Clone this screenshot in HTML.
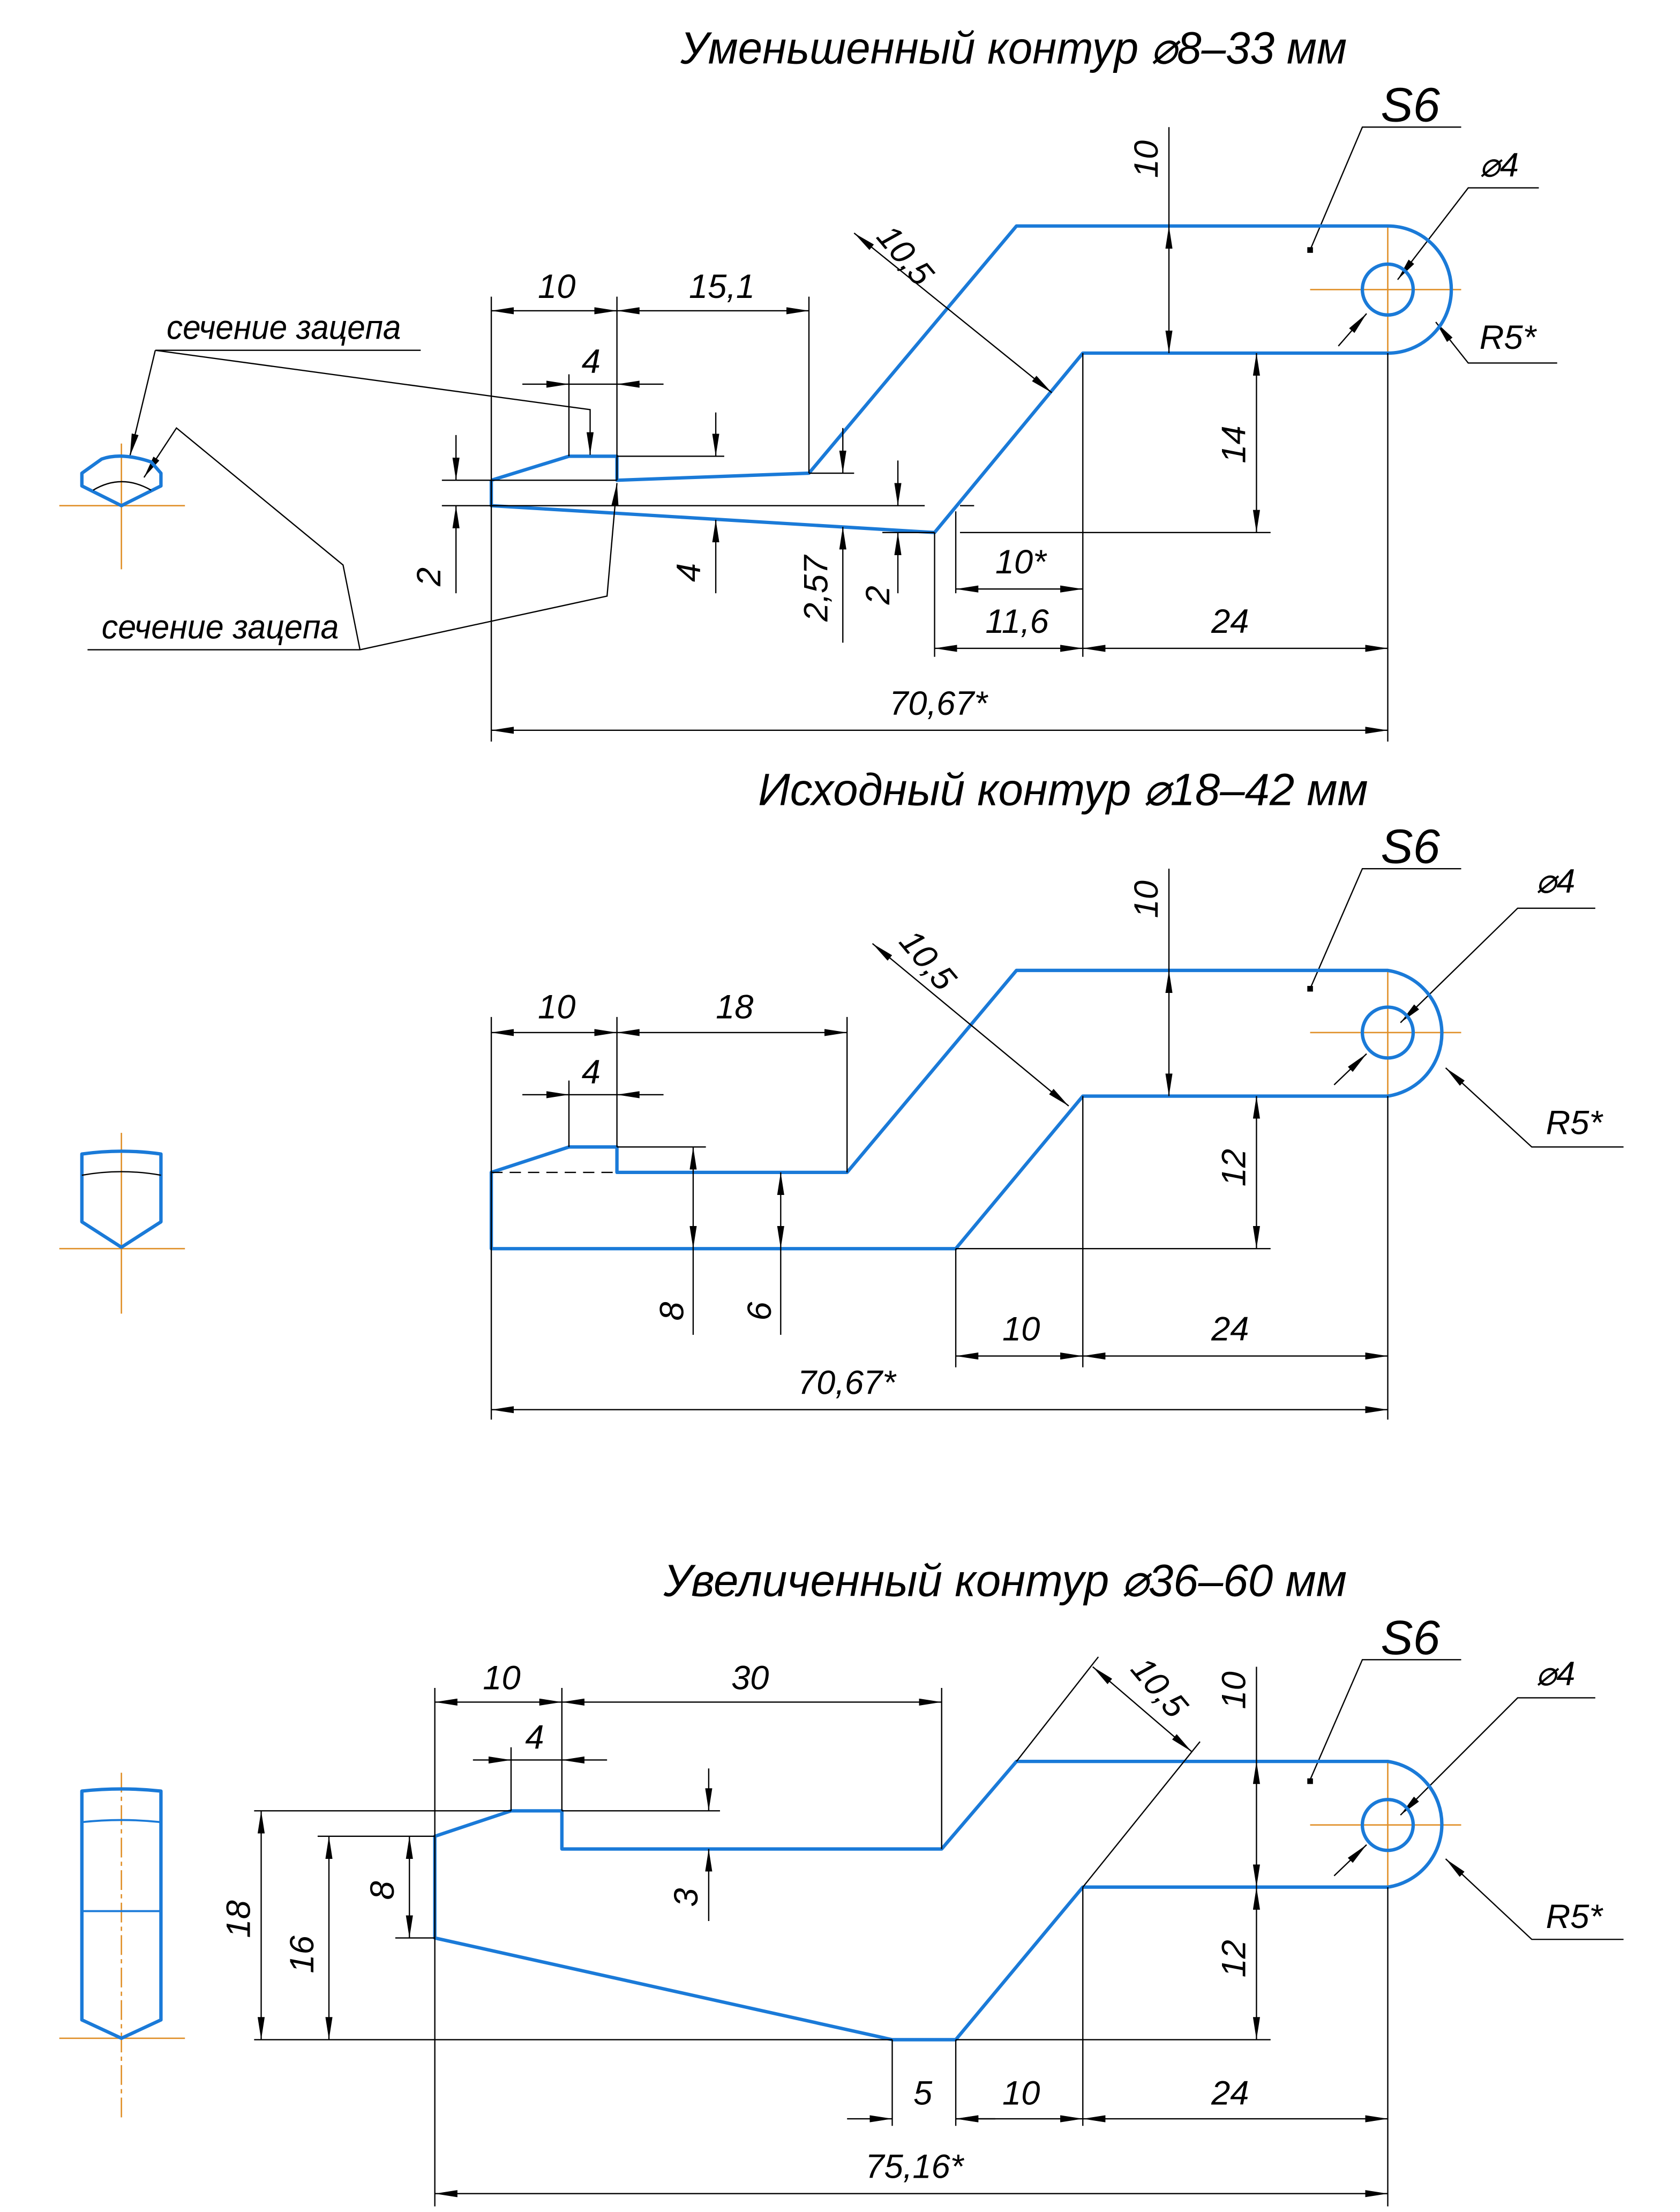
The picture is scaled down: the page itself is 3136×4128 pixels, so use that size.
<!DOCTYPE html>
<html><head><meta charset="utf-8"><style>
html,body{margin:0;padding:0;background:#fff}
svg{display:block}
text{font-family:"Liberation Sans",sans-serif;font-style:italic;fill:#000}
.b{stroke:#1a7ad8;stroke-width:2.4;fill:none;stroke-linejoin:round}
.k{stroke:#000;stroke-width:0.9;fill:none}
.o{stroke:#e0902a;stroke-width:1;fill:none}
.d{marker-start:url(#a);marker-end:url(#a)}
.e{marker-end:url(#a)}
.t{font-size:24px}
.h{font-size:32px}
</style></head><body>
<svg width="3136" height="4128" viewBox="0 0 1190 1566" preserveAspectRatio="none" xmlns="http://www.w3.org/2000/svg">
<defs><marker id="a" viewBox="0 0 16 5" refX="16" refY="2.5" markerWidth="16" markerHeight="5" markerUnits="userSpaceOnUse" orient="auto-start-reverse"><path d="M0,0L16,2.5L0,5z" fill="#000"/></marker></defs>

<!-- ============ SECTION 1 ============ -->
<text class="h" x="482" y="45" textLength="472" lengthAdjust="spacingAndGlyphs">Уменьшенный контур ⌀8–33 мм</text>
<text x="978" y="86" style="font-size:34px" textLength="42" lengthAdjust="spacingAndGlyphs">S6</text>
<path class="k" d="M1035,90H965L928,177"/><rect x="926" y="175" width="4" height="4"/>
<text class="t" x="1048" y="125">⌀4</text>
<path class="k e" d="M1090,133H1040L990,198"/>
<path class="k e" d="M948,245L968,222"/>
<text class="t" x="1048" y="247">R5*</text>
<path class="k e" d="M1103,257H1040L1017,228"/>
<path class="o" d="M928,205H1035M983,160V250"/>
<circle class="b" cx="983" cy="205" r="18"/>
<path class="b" d="M348,340V358L662,377L767,250H983A45,45 0 0 0 983,160H720L573,335L437,340V323H403L348,340"/>
<path class="k" d="M348,210V525M437,210V340M573,210V335M403,265V323M437,323H513M313,340H437M313,358H655M680,358H690M573,335H605M625,377H662M680,377H900M662,377V465M677,362V420M767,250V465M983,250V525M828,90V160"/>
<path class="k d" d="M348,220H437"/><path class="k d" d="M437,220H573"/>
<text class="t" x="381" y="211">10</text><text class="t" x="488" y="211">15,1</text>
<path class="k e" d="M370,272H403"/><path class="k e" d="M470,272H437"/><path class="k" d="M403,272H437"/>
<text class="t" x="412" y="264">4</text>
<path class="k" d="M110,248H298"/><text class="t" x="118" y="240" textLength="166" lengthAdjust="spacingAndGlyphs">сечение зацепа</text>
<path class="k e" d="M110,248L92,323"/><path class="k e" d="M110,248L418,290V322"/>
<path class="k" d="M62,460H255"/><text class="t" x="72" y="452" textLength="168" lengthAdjust="spacingAndGlyphs">сечение зацепа</text>
<path class="k e" d="M255,460L243,400L125,303L102,338"/><path class="k e" d="M255,460L430,422L437,342"/>
<path class="k e" d="M323,308V340"/><path class="k e" d="M323,420V358"/>
<text class="t" transform="translate(312,415) rotate(-90)">2</text>
<path class="k e" d="M507,292V323"/><path class="k e" d="M507,420V368"/>
<text class="t" transform="translate(496,412) rotate(-90)">4</text>
<path class="k e" d="M597,303V335"/><path class="k e" d="M597,455V373"/>
<text class="t" transform="translate(586,440) rotate(-90)">2,57</text>
<path class="k e" d="M636,326V358"/><path class="k e" d="M636,420V377"/>
<text class="t" transform="translate(630,428) rotate(-90)">2</text>
<path class="k d" d="M828,160V250"/><text class="t" transform="translate(820,126) rotate(-90)">10</text>
<path class="k d" d="M890,250V377"/><text class="t" transform="translate(882,328) rotate(-90)">14</text>
<path class="k d" d="M677,417H767"/><text class="t" x="705" y="406">10*</text>
<path class="k d" d="M662,459H767"/><path class="k d" d="M767,459H983"/>
<text class="t" x="698" y="448">11,6</text><text class="t" x="858" y="448">24</text>
<path class="k d" d="M348,517H983"/><text class="t" x="630" y="506">70,67*</text>
<path class="k d" d="M605,165L745,278"/>
<text class="t" transform="translate(620,168) rotate(50)">10,5</text>
<path class="o" d="M42,358H131M86,314V403"/>
<path class="b" d="M72,325Q86,320 107,327L114,335V344L86,358L58,344V335L72,325Z"/>
<path class="k" d="M66,347Q86,335 107,347"/>

<!-- ============ SECTION 2 ============ -->
<text class="h" x="537" y="570" textLength="432" lengthAdjust="spacingAndGlyphs">Исходный контур ⌀18–42 мм</text>
<text x="978" y="611" style="font-size:34px" textLength="42" lengthAdjust="spacingAndGlyphs">S6</text>
<path class="k" d="M1035,615H965L928,700"/><rect x="926" y="698" width="4" height="4"/>
<text class="t" x="1088" y="632">⌀4</text>
<path class="k e" d="M1130,643H1075L992,724"/>
<path class="k e" d="M945,768L968,746"/>
<text class="t" x="1095" y="803">R5*</text>
<path class="k e" d="M1150,812H1085L1024,756"/>
<path class="o" d="M928,731H1035M983,686V776"/>
<circle class="b" cx="983" cy="731" r="18"/>
<path class="b" d="M348,884V830L403,812H437V830H600L720,687H983A45,45 0 0 1 983,776H767L677,884Z"/>
<path class="k" stroke-dasharray="8,5" d="M348,830H437"/>
<path class="k" d="M348,720V1005M437,720V812M600,720V830M403,765V812M437,812H500M491,884V945M553,884V945M828,615V687M677,884H900M677,884V968M767,776V968M983,776V1005"/>
<path class="k d" d="M348,731H437"/><path class="k d" d="M437,731H600"/>
<text class="t" x="381" y="721">10</text><text class="t" x="507" y="721">18</text>
<path class="k e" d="M370,775H403"/><path class="k e" d="M470,775H437"/><path class="k" d="M403,775H437"/>
<text class="t" x="412" y="767">4</text>
<path class="k d" d="M491,812V884"/><text class="t" transform="translate(484,935) rotate(-90)">8</text>
<path class="k d" d="M553,830V884"/><text class="t" transform="translate(546,935) rotate(-90)">6</text>
<path class="k d" d="M828,687V776"/><text class="t" transform="translate(820,650) rotate(-90)">10</text>
<path class="k d" d="M890,776V884"/><text class="t" transform="translate(882,840) rotate(-90)">12</text>
<path class="k d" d="M677,960H767"/><path class="k d" d="M767,960H983"/>
<text class="t" x="710" y="949">10</text><text class="t" x="858" y="949">24</text>
<path class="k d" d="M348,998H983"/><text class="t" x="565" y="987">70,67*</text>
<path class="k d" d="M618,668L757,783"/>
<text class="t" transform="translate(636,667) rotate(50)">10,5</text>
<path class="o" d="M42,884H131M86,802V930"/>
<path class="b" d="M58,817Q86,813 114,817V865L86,883L58,865Z"/>
<path class="k" d="M58,832Q86,827 114,832"/>

<!-- ============ SECTION 3 ============ -->
<text class="h" x="470" y="1130" textLength="484" lengthAdjust="spacingAndGlyphs">Увеличенный контур ⌀36–60 мм</text>
<text x="978" y="1171" style="font-size:34px" textLength="42" lengthAdjust="spacingAndGlyphs">S6</text>
<path class="k" d="M1035,1175H965L928,1260"/><rect x="926" y="1259" width="4" height="4"/>
<text class="t" x="1088" y="1193">⌀4</text>
<path class="k e" d="M1130,1202H1075L992,1285"/>
<path class="k e" d="M945,1328L968,1306"/>
<text class="t" x="1095" y="1365">R5*</text>
<path class="k e" d="M1150,1373H1085L1024,1316"/>
<path class="o" d="M928,1292H1035M983,1247V1336"/>
<circle class="b" cx="983" cy="1292" r="18"/>
<path class="b" d="M308,1372V1300L362,1282H398V1309H667L720,1247H983A45,45 0 0 1 983,1336H767L677,1444H632Z"/>
<path class="k" d="M308,1195V1562M398,1195V1282M667,1195V1309M362,1237V1282M398,1282H510M180,1282H362M225,1300H308M280,1372H308M180,1444H632M677,1444H900M632,1444V1505M677,1444V1505M767,1336V1505M983,1336V1562M720,1247L778,1173M767,1336L850,1233M890,1180V1247"/>
<path class="k d" d="M308,1205H398"/><path class="k d" d="M398,1205H667"/>
<text class="t" x="342" y="1196">10</text><text class="t" x="518" y="1196">30</text>
<path class="k e" d="M335,1246H362"/><path class="k e" d="M430,1246H398"/><path class="k" d="M362,1246H398"/>
<text class="t" x="372" y="1238">4</text>
<path class="k e" d="M502,1252V1282"/><path class="k e" d="M502,1360V1309"/>
<text class="t" transform="translate(494,1350) rotate(-90)">3</text>
<path class="k d" d="M185,1282V1444"/><text class="t" transform="translate(177,1372) rotate(-90)">18</text>
<path class="k d" d="M233,1300V1444"/><text class="t" transform="translate(222,1397) rotate(-90)">16</text>
<path class="k d" d="M290,1300V1372"/><text class="t" transform="translate(279,1345) rotate(-90)">8</text>
<path class="k d" d="M890,1247V1336"/><text class="t" transform="translate(882,1210) rotate(-90)">10</text>
<path class="k d" d="M890,1336V1444"/><text class="t" transform="translate(882,1400) rotate(-90)">12</text>
<path class="k d" d="M774,1180L844,1240"/>
<text class="t" transform="translate(800,1182) rotate(50)">10,5</text>
<path class="k e" d="M600,1500H632"/><path class="k e" d="M705,1500H677"/>
<path class="k d" d="M677,1500H767"/><path class="k d" d="M767,1500H983"/>
<text class="t" x="647" y="1490">5</text><text class="t" x="710" y="1490">10</text><text class="t" x="858" y="1490">24</text>
<path class="k d" d="M308,1553H983"/><text class="t" x="613" y="1542">75,16*</text>
<path class="o" d="M42,1443H131"/>
<path class="o" stroke-dasharray="14,3,3,3" d="M86,1255V1500"/>
<path class="b" d="M58,1268Q86,1265 114,1268V1430L86,1443L58,1430Z"/>
<path class="b" style="stroke-width:1.4" d="M58,1290Q86,1287 114,1290M58,1353H114"/>
</svg>
</body></html>
